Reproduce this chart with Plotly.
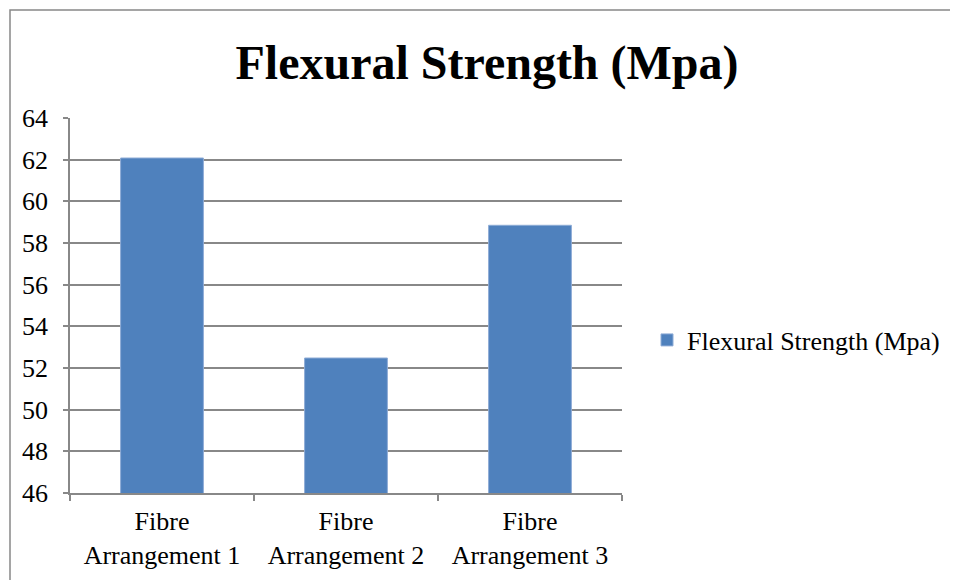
import plotly.graph_objects as go

categories = ["Fibre<br>Arrangement 1", "Fibre<br>Arrangement 2", "Fibre<br>Arrangement 3"]
values = [62.08, 52.48, 58.85]
series_name = "Flexural Strength (Mpa)"
y_ticks = [46, 48, 50, 52, 54, 56, 58, 60, 62, 64]

W, H = 958, 580
OFF = 8  # page body margin
# plot area in screenshot coordinates
L, R, T, B = 70, 622, 118, 493
Lf, Rf, Tf, Bf = L - OFF, R - OFF, T - OFF, B - OFF

fig = go.Figure()
fig.add_trace(go.Bar(
    x=categories, y=values, name=series_name,
    marker=dict(color="#4F81BD", line=dict(color="#8EACD6", width=1)),
    showlegend=True,
))

pw, ph = Rf - Lf, Bf - Tf
def px(x):  # screenshot x -> paper
    return (x - OFF - Lf) / pw
def py(y):  # screenshot y -> paper
    return (Bf - (y - OFF)) / ph

fig.add_shape(type="rect", xref="paper", yref="paper",
              x0=px(10), x1=px(1000), y0=py(10), y1=py(620),
              line=dict(color="#888888", width=1.5), layer="below")

fig.update_layout(
    width=W, height=H,
    margin=dict(l=Lf, r=W - Rf, t=Tf, b=H - Bf),
    paper_bgcolor="white", plot_bgcolor="white",
    font=dict(family="Liberation Serif", size=26, color="black"),
    title=dict(text="<b>Flexural Strength (Mpa)</b>", x=(487 - OFF) / W, xanchor="center",
               xref="container", yref="container", y=1 - (62 - OFF) / H, yanchor="middle",
               font=dict(size=48, family="Liberation Serif", color="black")),
    bargap=0.55,
    showlegend=True,
    legend=dict(x=px(647), y=py(340), xanchor="left", yanchor="middle",
                font=dict(size=26, family="Liberation Serif"),
                itemwidth=30, bgcolor="rgba(0,0,0,0)"),
    xaxis=dict(showline=True, linecolor="#888888", linewidth=1.5,
               ticks="outside", ticklen=6, tickcolor="#888888", tickwidth=1.5,
               tickson="boundaries", showgrid=False, ticklabelstandoff=4,
               tickfont=dict(size=26, family="Liberation Serif", color="black")),
    yaxis=dict(range=[46, 64], tickvals=y_ticks, showline=True, linecolor="#888888",
               linewidth=1.5, ticks="outside", ticklen=5, tickcolor="#888888",
               tickwidth=1.5, showgrid=True, gridcolor="#888888", gridwidth=1.5,
               zeroline=False, ticklabelstandoff=10,
               tickfont=dict(size=26, family="Liberation Serif", color="black")),
)

fig.write_html("out.html")
